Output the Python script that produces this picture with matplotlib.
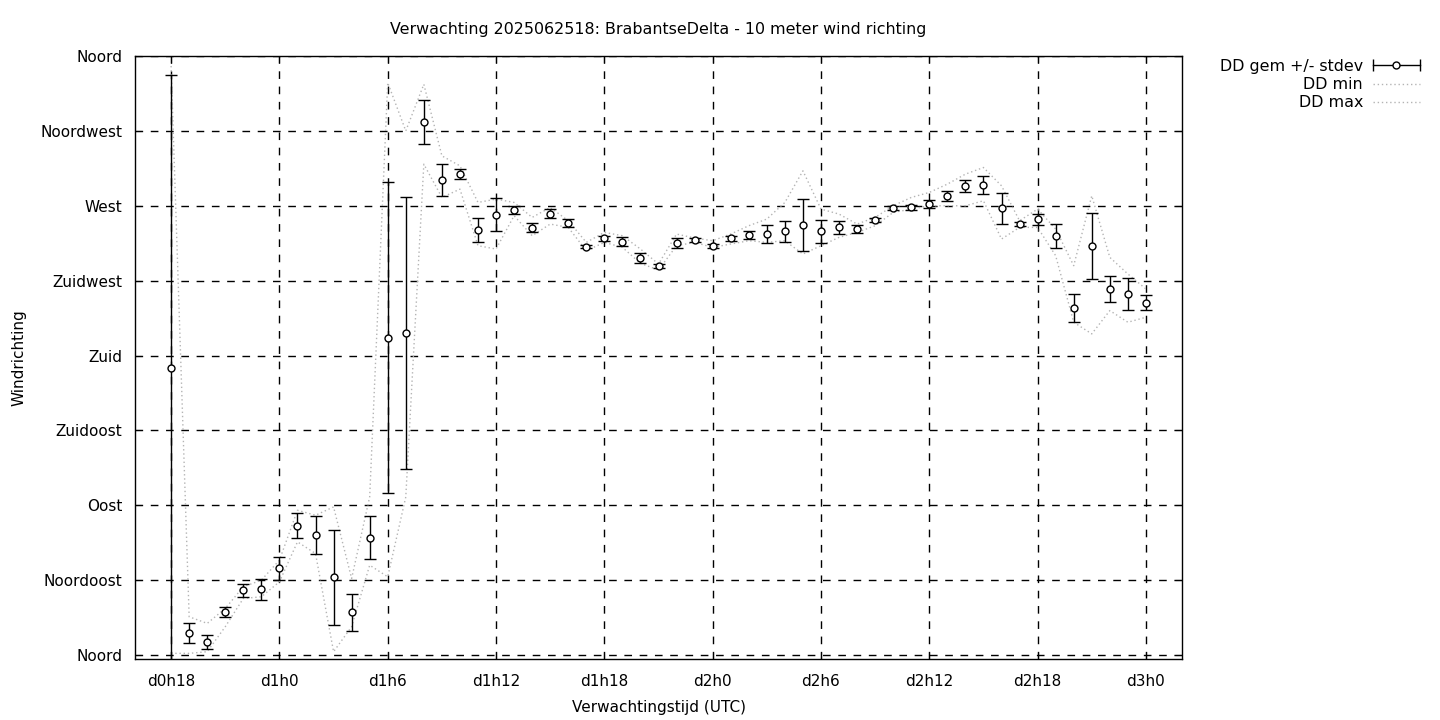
import numpy as np
import matplotlib
matplotlib.use('Agg')
import matplotlib.pyplot as plt
from matplotlib.lines import Line2D
from matplotlib.legend_handler import HandlerLine2D

plt.rcParams['font.family'] = ['DejaVu Sans']

# verwachtingsuren sinds d0h0 (elk uur van d0h18 t/m d3h0)
uren = np.arange(18, 73)

dd_gem = [172.6, 13.0, 8.0, 25.6, 38.8, 39.4, 52.0, 77.8, 72.0, 46.6, 25.6, 70.6,
          190.6, 193.6, 320.2, 285.6, 289.0, 255.4, 264.6, 267.4, 256.8, 265.2, 259.6, 245.4, 250.6, 248.4,
          238.6, 233.8, 247.6, 249.4, 245.8, 250.6, 252.4, 253.0, 254.8, 258.4, 254.8, 257.2, 256.2, 261.4, 268.6,
          269.2, 271.0, 275.8, 281.8, 282.4, 268.6, 259.0, 262.0, 251.8, 208.6, 245.8, 220.0, 217.0, 211.6]
dd_std = [175.8, 6.0, 4.2, 3.0, 3.7, 6.5, 7.2, 7.5, 11.5, 28.8, 11.0, 13.0,
          93.5, 81.8, 13.2, 9.6, 3.2, 7.2, 10.0, 2.6, 2.6, 2.8, 2.6, 1.0, 1.5, 2.8,
          2.8, 1.0, 3.0, 1.0, 1.0, 1.5, 2.2, 5.3, 6.3, 15.5, 6.9, 3.9, 2.3, 1.0, 1.0,
          1.5, 2.4, 3.0, 3.6, 5.4, 9.3, 1.0, 3.3, 7.2, 8.4, 19.8, 7.8, 9.6, 4.5]
dd_min = [1, 1, 2, 17, 34, 35, 44, 68, 61, 2, 17, 54,
          47, 95, 295, 275, 280, 246, 244, 264, 252, 259, 257, 243, 248, 245,
          235.4, 231.4, 246, 248, 245, 247, 249, 248, 249, 241, 246, 251, 254, 258, 266,
          268, 270, 270, 270, 273, 250, 257, 257, 240, 200, 193, 207, 200, 203]
dd_max = [354, 23, 19, 28, 41, 45, 57, 87, 84, 89, 46, 95,
          344, 315, 343, 300, 294, 272, 274, 272, 263, 269, 261, 248, 254, 252,
          244, 235, 253, 250.6, 249, 253, 258, 262, 272, 291, 268, 265, 259, 263, 270,
          275, 278, 283, 289, 293, 282, 261, 268, 256, 234, 276, 239, 229, 220]

tick_uren = [18, 24, 30, 36, 42, 48, 54, 60, 66, 72]
tick_labels = ['d0h18', 'd1h0', 'd1h6', 'd1h12', 'd1h18', 'd2h0', 'd2h6', 'd2h12', 'd2h18', 'd3h0']
richting_graden = [0, 45, 90, 135, 180, 225, 270, 315, 360]
richting_namen = ['Noord', 'Noordoost', 'Oost', 'Zuidoost', 'Zuid', 'Zuidwest', 'West', 'Noordwest', 'Noord']

fig = plt.figure(figsize=(14.4, 7.2), dpi=100)
ax = fig.add_axes([0.09375, 0.0847, 0.7271, 0.8375])

stip = (0, (1, 2))
grijs = '#b4b4b4'
lmin, = ax.plot(uren, dd_min, color=grijs, ls=stip, lw=1, zorder=2)
lmax, = ax.plot(uren, dd_max, color=grijs, ls=stip, lw=1, zorder=2)
ax.errorbar(uren, dd_gem, yerr=dd_std, fmt='o', color='k', mfc='white', mec='k',
            ms=5, mew=1, capsize=4, elinewidth=1, capthick=1, zorder=3)

ax.set_xlim(16, 74)
ax.set_ylim(-2.4, 360)
ax.set_xticks(tick_uren)
ax.set_xticklabels(tick_labels)
ax.set_yticks(richting_graden)
ax.set_yticklabels(richting_namen)
ax.tick_params(direction='in', top=True, right=True, length=5, labelsize=11)
ax.tick_params(axis='x', pad=11)
ax.tick_params(axis='y', pad=9)
ax.grid(True, color='k', linestyle=(0, (5.5, 5.5)), linewidth=1)
ax.set_axisbelow(True)
for s in ax.spines.values():
    s.set_linewidth(1)

ax.set_xlabel('Verwachtingstijd (UTC)', fontsize=11, labelpad=8)
ax.set_ylabel('Windrichting', fontsize=11, labelpad=10)
fig.text(658 / 1440, 1 - 29.5 / 720, 'Verwachting 2025062518: BrabantseDelta - 10 meter wind richting',
         ha='center', va='center', fontsize=11.4)

# legenda in gnuplot-stijl: tekst rechts uitgelijnd, symbool erachter
cap_line = Line2D([], [], color='k', lw=1, marker='|', ms=8, mew=1)
circ = Line2D([], [], ls='none', marker='o', mfc='white', mec='k', ms=5, mew=1)
fig.legend([(cap_line, circ), lmin, lmax], ['DD gem +/- stdev', 'DD min', 'DD max'],
           handler_map={cap_line: HandlerLine2D(numpoints=2, marker_pad=0),
                        circ: HandlerLine2D(numpoints=1)},
           loc='upper right', bbox_to_anchor=(1420 / 1440, 1 - 59 / 720),
           frameon=False, markerfirst=False, fontsize=11.4, handlelength=3.0,
           handletextpad=0.6, labelspacing=0.2, borderpad=0, borderaxespad=0)

plt.savefig('out.png', dpi=100)
